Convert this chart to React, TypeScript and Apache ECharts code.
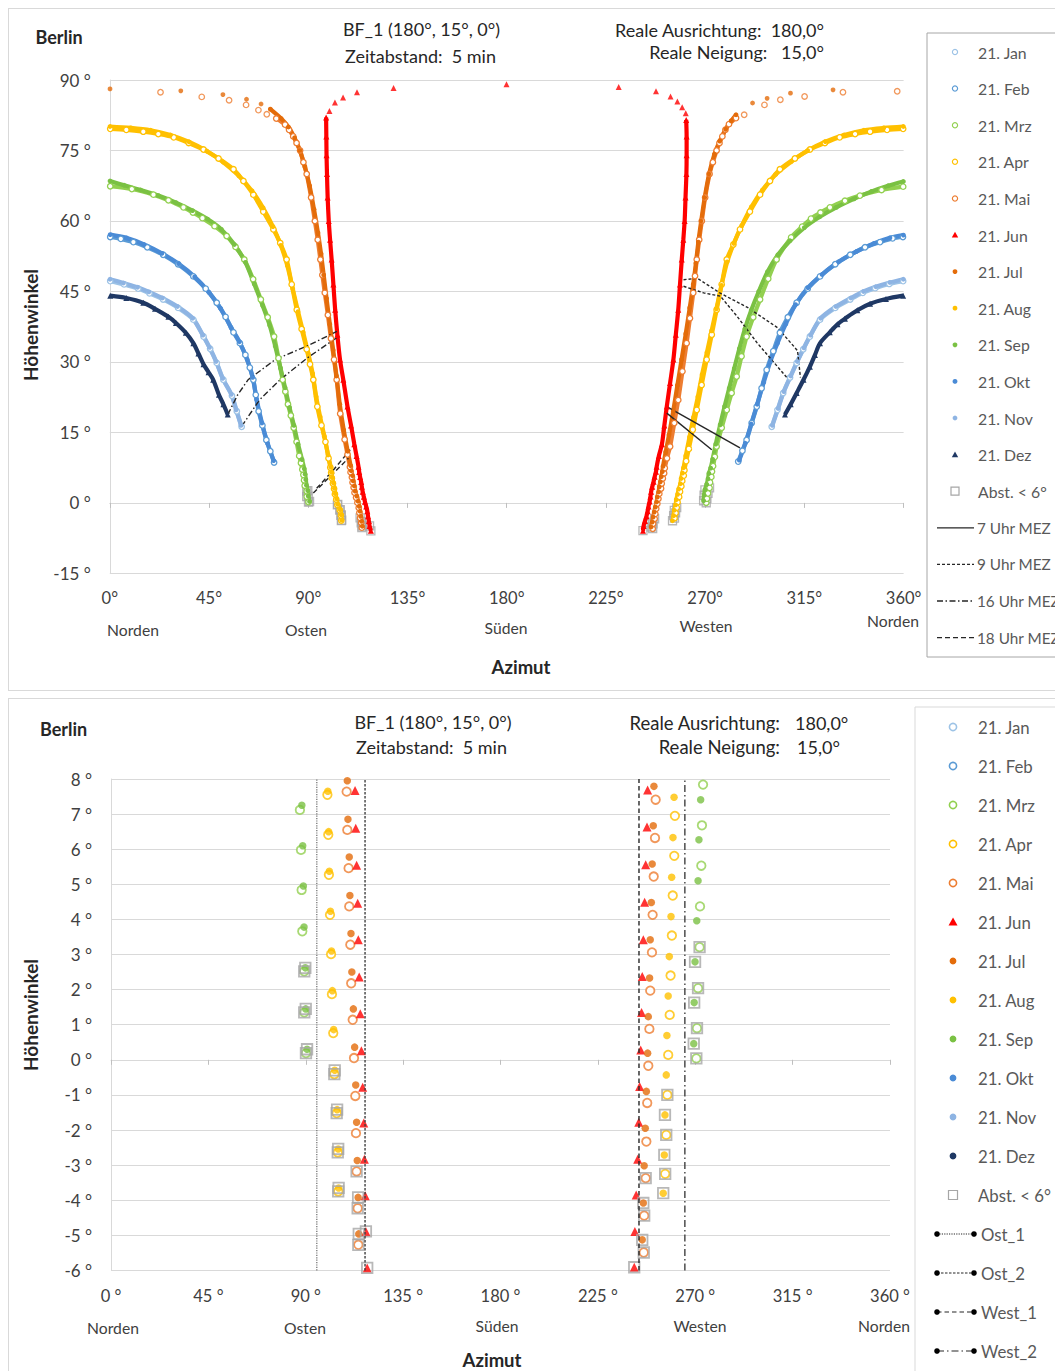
import React, { useEffect, useRef } from 'react';
import * as echarts from 'echarts';

type P = [number, number];

// ---------- Sonnenbahnen (Azimut °, Höhenwinkel °) ----------
const janL: P[] = [[59.8,16.2],[57.6,19.5],[55.4,22.8],[51.5,26.2],[48.5,29.8],[45.5,32.8],[42.5,35.4],[37.9,39],[31,41.5],[24.2,43.3],[18,44.6],[12.9,45.6],[6.5,46.5],[0.2,47.2]];
const janR: P[] = [[300.2,16.2],[302.8,19.8],[305.4,23.4],[308.5,26.7],[311.5,29.8],[314.5,32.7],[317.5,35.4],[322.1,39],[329,41.5],[335.8,43.3],[341.5,44.7],[347.1,45.7],[353.5,46.6],[359.8,47.2]];
const novL: P[] = [[59.5,16.5],[57.3,19.8],[55.1,23.1],[51.2,26.5],[48.2,30.1],[45.2,33.1],[42.2,35.7],[37.6,39.3],[30.7,41.8],[23.9,43.6],[17.7,44.9],[12.6,45.9],[6.2,46.8],[0.1,47.6]];
const novR: P[] = [[300.5,16.5],[303.1,20.1],[305.7,23.7],[308.8,27],[311.8,30.1],[314.8,33],[317.8,35.7],[322.4,39.3],[329.3,41.8],[336.1,43.6],[341.8,45],[347.4,46],[353.8,46.9],[359.9,47.6]];

const dezL: P[] = [[53.5,18.8],[51.5,21],[49.5,23],[46.9,26.2],[44.8,27.8],[42.5,29.5],[40.2,31.8],[37.9,34],[34.5,36.2],[30,38.3],[26.6,39.6],[20.5,41.3],[15.2,42.6],[7.5,43.6],[0.2,44.1]];
const dezR: P[] = [[306.2,18.8],[308.8,21],[311.5,23.4],[314.6,26.2],[317.5,29],[319.8,31.5],[322.1,34],[326.5,36.3],[330,38],[333.4,39.2],[339,41],[344.8,42.4],[352,43.4],[359.8,44.1]];

const febL: P[] = [[74.5,8.6],[72.8,11],[71,13.4],[69.2,16.5],[67.5,19.5],[66.2,23],[65.1,26.2],[63.5,28.8],[61.5,31.5],[59,34],[56.1,36.3],[52.5,39.6],[48.5,42.6],[43.5,45.6],[37.9,48.2],[31,50.8],[24.2,52.8],[17,54.4],[10.7,55.5],[5,56.2],[0.2,56.6]];
const febR: P[] = [[285,8.8],[286.9,11.1],[288.8,13.4],[291.1,17],[293.4,20.5],[295.6,24.4],[297.9,28.3],[300.9,32.3],[303.9,36.2],[307.5,39.5],[311.5,42.6],[316.5,45.6],[322.1,48.2],[329,50.8],[335.8,52.8],[342.5,54.4],[349.3,55.5],[355,56.3],[359.7,56.6]];
const oktL: P[] = [[74.3,9.0],[71.6,12.6],[69,17],[66.6,22],[64.8,26.7],[62.3,30.5],[58.8,34.3],[55,37.3],[50.2,41.4],[45,44.8],[38.5,48.1],[31.2,50.9],[23.6,53.1],[15.5,55],[7.5,56.4],[0.2,57.1]];
const oktR: P[] = [[285.5,9.1],[288.2,12.7],[290.9,16.8],[293.6,21],[296.6,25.7],[299.5,30],[302.8,34],[306.6,38.1],[311,42.2],[316.6,45.8],[323,48.6],[330.5,51.3],[338.6,53.5],[346.5,55.2],[353.8,56.4],[359.9,57.0]];

const mrzL: P[] = [[90.1,0.19],[89.3,1.35],[89.3,2.52],[88.4,3.66],[88.1,4.84],[87.8,5.98],[87.3,7.12],[86.7,8.5],[85.9,10],[84.7,13],[83.4,16],[82.1,18.6],[80.8,21],[79.6,23.7],[78.4,26.2],[76.5,30.8],[74.5,35.4],[71.6,39.5],[68.5,43.3],[65,47.6],[61,51.8],[57,54.5],[53,56.8],[47.5,58.9],[42,60.6],[37.7,61.8],[33.4,62.9],[26.6,64.4],[19.8,65.6],[10,66.8],[0.2,67.4]];
const mrzR: P[] = [[270.5,0.04],[270.8,0.9],[271.3,2.04],[272.0,3.21],[272.2,4.37],[272.8,5.53],[273.1,6.68],[273.6,7.84],[274.4,9.8],[275.2,12],[277.5,16],[279.8,19.8],[282,23.4],[284.3,26.9],[286.5,31.2],[288.8,35.4],[291.8,39.5],[294.9,43.3],[298.6,47.7],[302.4,51.8],[309,56.5],[314,58.8],[318,60.5],[322.3,61.8],[326.6,62.9],[333.4,64.3],[340.2,65.4],[350,66.6],[359.8,67.3]];
const sepL: P[] = [[90.6,0.3],[90.0,1.45],[89.8,2.62],[89.2,3.78],[88.9,4.95],[88.6,6.1],[88.2,7.25],[87.2,9.2],[85.4,12.5],[83.5,16.5],[81.5,20.3],[79.5,24.5],[77.4,28.7],[75,33.4],[72.5,37.8],[69.3,42],[65.5,46.6],[61.5,51.2],[56.5,55],[50.6,58.2],[44.3,60.4],[37.5,62.2],[30,63.9],[22,65.4],[14,66.6],[6.5,67.6],[0.1,68.5]];
const sepR: P[] = [[269.3,0.46],[269.5,1.63],[269.9,2.79],[270.7,3.96],[271.3,5.1],[271.7,6.27],[272.5,7.41],[273.4,9.3],[274.8,12.5],[276.8,16.6],[278.8,20.5],[280.9,24.4],[283.2,28.6],[285.5,32.8],[288,37],[290.9,41],[294.3,45],[298.3,49.2],[303,52.8],[308.5,55.8],[315,58.6],[322,60.9],[329.5,62.9],[337.5,64.7],[345.5,66.3],[353,67.5],[359.9,68.4]];

const aprL: P[] = [[105.0,-3.75],[104.8,-2.64],[104.3,-1.52],[103.2,-0.41],[102.7,0.76],[102.1,1.87],[101.7,3.01],[101.2,4.13],[100.7,5.27],[100.4,6.41],[100.0,7.55],[99.2,9.5],[97.8,13],[96,16.5],[94.1,20.5],[92.3,26.2],[90.8,29.5],[89.3,32.7],[87,37],[84.8,41.1],[82.5,46.5],[80.2,51.8],[77.3,55.3],[74.2,58.2],[69.6,62],[65.1,65.6],[60.6,68.5],[56.1,71],[49.3,73.3],[42.5,75.2],[35.8,76.6],[29,77.8],[22,78.5],[15.2,79],[7.5,79.4],[0.2,79.6]];
const aprR: P[] = [[256.1,-3.25],[256.6,-2.14],[257.1,-1.0],[257.5,0.14],[258.2,1.28],[258.6,2.4],[259.2,3.54],[259.6,4.68],[260.3,5.81],[260.6,6.95],[261.4,8.9],[262.6,11.5],[264.4,15.6],[266.2,19.8],[268.4,25.1],[270.7,30.5],[273,35.8],[275.2,41.1],[277.5,46.5],[279.8,51.8],[282.8,55],[285.8,58.2],[290.3,62],[294.9,65.6],[299.4,68.5],[303.9,71],[310.7,73.3],[317.5,75.2],[324.3,76.6],[331,77.8],[338,78.5],[344.8,79],[352.5,79.4],[359.8,79.6]];
const augL: P[] = [[105.2,-3.65],[105.0,-2.54],[104.5,-1.42],[103.4,-0.3],[102.9,0.86],[102.3,1.97],[101.9,3.1],[101.4,4.23],[100.9,5.37],[100.6,6.5],[100.2,7.65],[99,10.2],[97.3,14.2],[95.4,18.3],[93.6,22.6],[92,27.5],[90,31.8],[87.7,36.3],[85.4,40.7],[83,45.5],[80.5,50.5],[77.6,54.8],[74,58.8],[69.5,62.8],[64.5,66.4],[58.5,69.6],[51.5,72.5],[44,74.9],[36,76.8],[27.5,78.3],[18.5,79.3],[9.5,79.8],[0.1,80.1]];
const augR: P[] = [[255.2,-3.8],[255.7,-2.71],[256.0,-1.57],[256.6,-0.43],[256.9,0.69],[257.5,1.82],[258.0,2.94],[258.8,4.08],[259.1,5.2],[259.7,6.33],[260.2,7.48],[261.2,10],[262.9,14],[264.7,18.2],[266.7,22.6],[268.6,27.3],[270.8,32],[272.9,36.6],[275.1,41.3],[277.4,46.3],[280,51.3],[283,55.2],[286.6,59],[291,63],[296,66.6],[302,69.9],[309,72.6],[316.5,75],[324.5,76.9],[333,78.3],[342,79.3],[351,79.8],[359.9,80.1]];

const maiL: P[] = [[114.3,-5.27],[114.0,-4.23],[113.5,-3.18],[113.2,-2.09],[112.9,-1.03],[112.3,0.05],[111.7,1.14],[111.0,2.18],[110.6,3.28],[110.1,4.37],[109.8,5.46],[109.2,6.55],[108.9,7.64],[107.8,10.3],[106.5,13.5],[104.5,19],[102.9,26.2],[101.7,30.5],[100.3,35],[98.9,40],[97.5,44.7],[96.4,48.5],[95.5,51.8],[94.3,56],[93,60],[91.3,65],[89.3,70],[87.8,72.5],[86.3,75],[84.7,76.6],[83.2,78],[81.3,79.4],[79.5,80.5],[75.5,81.8]];
const maiTopL: P[] = [[71.2,82.7],[67.4,83.6],[61.8,84.7],[54.1,85.7],[41.7,86.4],[23,87.4]];
const maiR: P[] = [[246.2,-5.49],[246.4,-4.44],[247.1,-3.37],[247.4,-2.33],[247.8,-1.23],[248.3,-0.17],[248.8,0.88],[249.2,1.97],[250.0,3.06],[250.3,4.13],[250.8,5.22],[251.4,6.32],[251.7,7.41],[252.7,9.5],[254.1,12],[256,17],[257.8,21.9],[259.7,28],[261.6,34],[263.1,39.3],[264.6,44.7],[265.4,48.3],[266.2,51.8],[267.3,56],[268.5,60],[270,65],[272,70],[273.5,72.5],[275.2,75],[276.5,76.6],[277.8,78],[279.2,79.4],[280.8,80.6],[284,81.9]];
const maiTopR: P[] = [[287.7,82.6],[296.9,84.7],[304.1,85.8],[315.1,86.5],[332.5,87.4],[357.1,87.6]];
const julL: P[] = [[114.5,-4.96],[114.2,-3.92],[113.8,-2.87],[113.5,-1.78],[113.1,-0.72],[112.6,0.36],[112.0,1.45],[111.3,2.5],[110.9,3.6],[110.4,4.68],[110.1,5.78],[109.5,6.85],[109.2,7.95],[107.9,11],[106.1,15.5],[104.3,21],[102.8,27],[101.3,32.5],[99.8,38],[98.3,43.5],[97,48.5],[95.8,53],[94.4,57.5],[92.6,62.5],[90.6,67.5],[88.5,71.5],[86.2,75],[83.8,77.7],[81,80],[77.7,81.8],[72.8,83.8]];
const julTopL: P[] = [[68.6,84.9],[62,85.9],[51.3,86.9],[32.2,87.7],[0.1,88.1]];
const julR: P[] = [[245.5,-5.13],[246.0,-4.08],[246.4,-3.02],[246.9,-1.95],[247.4,-0.9],[248.0,0.19],[248.3,1.23],[248.9,2.33],[249.2,3.42],[249.7,4.48],[250.1,5.58],[250.6,6.67],[250.9,7.79],[252.1,10.8],[253.6,14.5],[255.5,19.5],[257.4,25],[259.3,30.5],[261.2,36],[263,41.5],[264.6,46.5],[265.8,51],[266.9,55.5],[268.2,60],[269.8,65],[271.8,70],[274.2,74.2],[276.6,77],[279.3,79.5],[281.8,81.3],[284,82.6]];
const julTopR: P[] = [[291.5,85.1],[298.1,86.1],[308.7,87.2],[328,87.9]];

const junL: P[] = [[118.4,-5.93],[117.8,-4.89],[117.5,-3.87],[117.1,-2.83],[116.8,-1.8],[116.3,-0.78],[115.7,0.26],[115.2,1.31],[114.7,2.36],[114.3,3.42],[114.0,4.46],[113.5,5.54],[113.1,6.6],[112.8,7.67],[111.9,10],[110.9,12.5],[109.4,16.5],[107.8,20.5],[105.9,26.2],[104.4,30.5],[103.2,35.8],[102.2,41.1],[101.4,46.5],[100.6,51.8],[99.9,56],[99.3,60],[98.8,65],[98.5,70],[98.3,74],[98.2,78],[98.1,82]];
const junTopL: P[] = [[99.6,83.4],[102.1,85.2],[105.8,86.3],[112.1,87.4],[128.7,88.3],[179.9,89.1]];
const junR: P[] = [[241.8,-5.91],[242.1,-4.89],[242.7,-3.85],[243.4,-2.83],[243.9,-1.78],[244.3,-0.76],[244.8,0.28],[245.2,1.35],[245.5,2.37],[246.0,3.42],[246.6,4.49],[247.1,5.56],[247.7,6.63],[248.0,7.69],[249,10],[250.4,12.5],[251.5,16.5],[252.6,20.5],[254.1,25.5],[255.6,30.5],[256.7,35.8],[257.8,41.1],[258.6,46.5],[259.4,51.8],[260.1,56],[260.7,60],[261.1,65],[261.5,70],[261.6,74],[261.6,78],[261.4,81.5]];
const junTopR: P[] = [[261.2,82.9],[259.6,84.2],[257.4,85.4],[254.3,86.5],[247.7,87.6],[230.8,88.5]];

// Punkte mit Abstand < 6°
const abstL: P[] = [[89.3,2.52],[89.8,2.62],[89.3,1.35],[90.0,1.45],[90.1,0.19],[90.6,0.3],[103.2,-0.41],[103.4,-0.3],[104.3,-1.52],[104.5,-1.42],[104.8,-2.64],[105.0,-2.54],[105.0,-3.75],[105.2,-3.65],[113.5,-3.18],[114.2,-3.92],[114.0,-4.23],[114.5,-4.96],[114.3,-5.27],[117.8,-4.89],[118.4,-5.93]];
const abstR: P[] = [[269.9,2.79],[269.5,1.63],[269.3,0.46],[272.0,3.21],[271.3,2.04],[270.8,0.9],[270.5,0.04],[257.1,-1.0],[256.6,-2.14],[256.1,-3.25],[256.0,-1.57],[255.7,-2.71],[255.2,-3.8],[247.1,-3.37],[246.0,-4.08],[246.4,-4.44],[245.5,-5.13],[246.2,-5.49],[241.8,-5.91]];

// Uhrzeit-Linien (oberes Diagramm)
const uhr7a: P[] = [[252.6,20.5],[285.8,11.7]];
const uhr7b: P[] = [[252.6,19.1],[273,11.3]];
const uhr9a: P[] = [[260.2,47.5],[266.5,47.8],[277,44.6],[289.2,41.6],[302.8,37.3],[311.9,32.4],[313.2,26.7]];
const uhr9b: P[] = [[260.2,46.1],[269.3,44.7],[276.9,44],[284.5,39.7],[293.5,34.1],[307.2,26.6]];
const uhr16a: P[] = [[59.8,16.3],[68,22],[77.2,26.2],[90,31],[104,35.5]];
const uhr16b: P[] = [[53.5,18.8],[58,23],[62.7,26.2],[75,30.5],[90,33.5],[103,36.5]];
const uhr18a: P[] = [[92.3,2.1],[101.4,6.3],[108.2,9.5]];
const uhr18b: P[] = [[93.8,3.1],[101.4,7],[109,11.3]];

// Grenzlinien (unteres Diagramm)
const ost1: P[] = [[95.1,-6],[95.1,8]];
const ost2: P[] = [[117.4,-6],[117.4,8]];
const west1: P[] = [[244.0,-6],[244.0,8]];
const west2: P[] = [[265.2,-6],[265.2,8]];

const monthNames = ['21. Jan','21. Feb','21. Mrz','21. Apr','21. Mai','21. Jun','21. Jul','21. Aug','21. Sep','21. Okt','21. Nov','21. Dez'];
const compassNames = ['Norden','Osten','Süden','Westen','Norden'];
const topLineNames = ['7 Uhr MEZ','9 Uhr MEZ','16 Uhr MEZ','18 Uhr MEZ'];
const botLineNames = ['Ost_1','Ost_2','West_1','West_2'];

// ---------- Stil ----------
const FONT = 'Lato, "Liberation Sans", Arial, sans-serif';
type Kind = 'hollow' | 'filled' | 'tri';
const monthColors = ['#9DC3E6','#5B9BD5','#92D050','#FFC000','#ED7D31','#FF0000','#E46C0A','#FFC000','#7AC143','#4A8BD6','#8EB4E3','#1F3864'];
const monthKinds: Kind[] = ['hollow','hollow','hollow','hollow','hollow','tri','filled','filled','filled','filled','filled','tri'];
const monthBranches: P[][][] = [[janL,janR],[febL,febR],[mrzL,mrzR],[aprL,aprR],[maiL,maiR],[junL,junR],[julL,julR],[augL,augR],[sepL,sepR],[oktL,oktR],[novL,novR],[dezL,dezR]];
const monthSparse: P[][][] = [[],[],[],[],[maiTopL,maiTopR],[junTopL,junTopR],[julTopL,julTopR],[],[],[],[],[]];

function sym(kind: Kind, color: string, big: boolean) {
  if (kind === 'hollow') return { symbol: 'circle', symbolSize: big ? 8.5 : 5.5, itemStyle: { color: '#fff', borderColor: color, borderWidth: big ? 1.8 : 1.3 } };
  if (kind === 'filled') return { symbol: 'circle', symbolSize: big ? 7.5 : 4.8, itemStyle: { color } };
  return { symbol: 'triangle', symbolSize: big ? 9 : 6, itemStyle: { color } };
}

function T(x: number, y: number, text: string, size: number, o: any = {}) {
  return {
    type: 'text', x, y, rotation: o.rot || 0, z: 50, silent: true,
    style: {
      text, fill: o.color || '#262626', fontSize: size, fontWeight: o.bold ? 'bold' : 'normal', fontFamily: FONT,
      textAlign: o.align || 'left', textVerticalAlign: 'middle', align: o.align || 'left', verticalAlign: 'middle',
    },
  };
}

function legendSymbol(kind: Kind | 'square', color: string, x: number, y: number, big: boolean) {
  if (kind === 'hollow') return { type: 'circle', z: 51, shape: { cx: x, cy: y, r: big ? 3.6 : 2.6 }, style: { fill: '#fff', stroke: color, lineWidth: big ? 1.6 : 1.2 } };
  if (kind === 'filled') return { type: 'circle', z: 51, shape: { cx: x, cy: y, r: big ? 3.4 : 2.4 }, style: { fill: color } };
  if (kind === 'tri') { const r = big ? 4.5 : 3.2; return { type: 'polygon', z: 51, shape: { points: [[x, y - r], [x + r, y + r * 0.8], [x - r, y + r * 0.8]] }, style: { fill: color } }; }
  const s = big ? 9 : 8;
  return { type: 'rect', z: 51, shape: { x: x - s / 2, y: y - s / 2, width: s, height: s }, style: { fill: 'none', stroke: '#A6A6A6', lineWidth: 1.2 } };
}

const topDash: any[] = [null, [3, 2], [6, 2.5, 1.5, 2.5], [5, 3]];
const botDash: any[] = [[1.2, 1.2], [2.5, 1.5], [4.5, 3], [7, 3, 1.5, 3]];
const botLineColor = ['#7F7F7F', '#404040', '#262626', '#404040'];

function buildTop() {
  const series: any[] = [];
  monthNames.forEach((name, i) => {
    const s = sym(monthKinds[i], monthColors[i], false);
    monthBranches[i].forEach((b) => series.push({ type: 'line', name, data: b, smooth: 0.3, silent: true, ...s, lineStyle: { color: monthColors[i], width: 4.2 } }));
    monthSparse[i].forEach((b) => series.push({ type: 'scatter', name, data: b, silent: true, ...s }));
  });
  [abstL, abstR].forEach((b) => series.push({ type: 'scatter', name: 'Abst. < 6°', data: b, silent: true, symbol: 'rect', symbolSize: 8, itemStyle: { color: 'rgba(255,255,255,0)', borderColor: '#A6A6A6', borderWidth: 1.3 } }));
  const lines = [[uhr7a, uhr7b], [uhr9a, uhr9b], [uhr16a, uhr16b], [uhr18a, uhr18b]];
  lines.forEach((pair, k) => pair.forEach((b) => series.push({ type: 'line', name: topLineNames[k], data: b, symbol: 'none', silent: true, lineStyle: { color: '#262626', width: 1.4, type: topDash[k] || 'solid' } })));

  const g: any[] = [
    T(27.5, 29, 'Berlin', 18, { bold: true }),
    T(413.5, 20.7, 'BF_1 (180°, 15°, 0°)', 18, { align: 'center' }),
    T(412.5, 47.7, 'Zeitabstand:  5 min', 18, { align: 'center' }),
    T(816, 22.4, 'Reale Ausrichtung:  180,0°', 18, { align: 'right' }),
    T(816, 44.4, 'Reale Neigung:   15,0°', 18, { align: 'right' }),
    T(22, 317, 'Höhenwinkel', 19, { bold: true, align: 'center', rot: Math.PI / 2 }),
    T(513, 659, 'Azimut', 18.5, { bold: true, align: 'center' }),
  ];
  const compassPos = [[125, 622], [298, 622], [498, 620], [698, 618], [885, 613]];
  compassNames.forEach((n, i) => g.push(T(compassPos[i][0], compassPos[i][1], n, 15.7, { align: 'center', color: '#404040' })));
  g.push({ type: 'rect', z: 49, shape: { x: 919, y: 25, width: 200, height: 624 }, style: { fill: '#fff', stroke: '#A6A6A6', lineWidth: 1 } });
  const rowY = (i: number) => 44 + 36.6 * i;
  monthNames.forEach((n, i) => {
    g.push(legendSymbol(monthKinds[i], monthColors[i], 947, rowY(i), false));
    g.push(T(970, rowY(i), n, 15.8, { color: '#595959' }));
  });
  g.push(legendSymbol('square', '', 947, rowY(12), false));
  g.push(T(970, rowY(12), 'Abst. < 6°', 15.8, { color: '#595959' }));
  topLineNames.forEach((n, k) => {
    const y = rowY(13 + k);
    g.push({ type: 'line', z: 51, shape: { x1: 929, y1: y, x2: 966, y2: y }, style: { stroke: '#262626', lineWidth: 1.3, lineDash: topDash[k] || null } });
    g.push(T(969, y, n, 15.3, { color: '#595959' }));
  });

  return {
    animation: false,
    grid: { left: 101.8, top: 72, width: 793.8, height: 493.4 },
    xAxis: [
      { type: 'value', min: 0, max: 360, interval: 45, position: 'bottom', axisLine: { show: false, onZero: false }, axisTick: { show: false }, splitLine: { show: false },
        axisLabel: { formatter: (v: number) => v + '°', fontSize: 16.5, color: '#404040', fontFamily: FONT, margin: 16 } },
      { type: 'value', min: 0, max: 360, interval: 45, position: 'bottom', axisLine: { show: true, onZero: true, lineStyle: { color: '#D9D9D9' } },
        axisTick: { show: true, length: 5, lineStyle: { color: '#BFBFBF' } }, axisLabel: { show: false }, splitLine: { show: false } },
    ],
    yAxis: { type: 'value', min: -15, max: 90, interval: 15, axisLine: { show: true, onZero: false, lineStyle: { color: '#D9D9D9' } }, axisTick: { show: false },
      splitLine: { show: true, lineStyle: { color: '#D9D9D9' } },
      axisLabel: { formatter: (v: number) => v + ' °', fontSize: 17, color: '#404040', fontFamily: FONT, margin: 19 } },
    series,
    graphic: g,
  };
}

function buildBottom() {
  const series: any[] = [];
  monthNames.forEach((name, i) => {
    const kind = i === 11 ? 'filled' : monthKinds[i];
    const s = sym(kind as Kind, monthColors[i], true);
    series.push({ type: 'scatter', name, data: ([] as P[]).concat(...monthBranches[i]), silent: true, ...s });
  });
  series.push({ type: 'scatter', name: 'Abst. < 6°', data: ([] as P[]).concat(abstL, abstR), silent: true, symbol: 'rect', symbolSize: 10.5, itemStyle: { color: 'rgba(255,255,255,0)', borderColor: '#A6A6A6', borderWidth: 1.8 } });
  [ost1, ost2, west1, west2].forEach((b, k) => series.push({ type: 'line', name: botLineNames[k], data: b, symbol: 'none', silent: true, lineStyle: { color: botLineColor[k], width: 1.4, type: botDash[k] } }));

  const g: any[] = [
    T(32, 31, 'Berlin', 18, { bold: true }),
    T(425, 24, 'BF_1 (180°, 15°, 0°)', 18, { align: 'center' }),
    T(423.5, 49.4, 'Zeitabstand:  5 min', 18, { align: 'center' }),
    T(772, 25, 'Reale Ausrichtung:', 18.5, { align: 'right' }),
    T(787, 25, '180,0°', 18),
    T(772, 49, 'Reale Neigung:', 18.5, { align: 'right' }),
    T(789, 49, '15,0°', 18),
    T(22, 317, 'Höhenwinkel', 19, { bold: true, align: 'center', rot: Math.PI / 2 }),
    T(484, 662, 'Azimut', 18.5, { bold: true, align: 'center' }),
  ];
  const compassPos = [[105, 630], [297, 630], [489, 628], [692, 628], [876, 628]];
  compassNames.forEach((n, i) => g.push(T(compassPos[i][0], compassPos[i][1], n, 15.7, { align: 'center', color: '#404040' })));
  g.push({ type: 'rect', z: 49, shape: { x: 907, y: 9, width: 200, height: 700 }, style: { fill: '#fff', stroke: '#D9D9D9', lineWidth: 1 } });
  const rowY = (i: number) => 29 + 39 * i;
  monthNames.forEach((n, i) => {
    const kind = i === 11 ? 'filled' : monthKinds[i];
    g.push(legendSymbol(kind as Kind, monthColors[i], 945, rowY(i), true));
    g.push(T(970, rowY(i), n, 16.8, { color: '#595959' }));
  });
  g.push(legendSymbol('square', '', 945, rowY(12), true));
  g.push(T(970, rowY(12), 'Abst. < 6°', 16.8, { color: '#595959' }));
  botLineNames.forEach((n, k) => {
    const y = rowY(13 + k);
    g.push({ type: 'line', z: 51, shape: { x1: 929, y1: y, x2: 966, y2: y }, style: { stroke: '#262626', lineWidth: 1.2, lineDash: botDash[k] } });
    g.push({ type: 'circle', z: 52, shape: { cx: 929, cy: y, r: 2.8 }, style: { fill: '#000' } });
    g.push({ type: 'circle', z: 52, shape: { cx: 966, cy: y, r: 2.8 }, style: { fill: '#000' } });
    g.push(T(973, y, n, 16.8, { color: '#595959' }));
  });

  return {
    animation: false,
    grid: { left: 103, top: 81, width: 779, height: 491.4 },
    xAxis: [
      { type: 'value', min: 0, max: 360, interval: 45, position: 'bottom', axisLine: { show: false, onZero: false }, axisTick: { show: false }, splitLine: { show: false },
        axisLabel: { formatter: (v: number) => v + ' °', fontSize: 16.5, color: '#404040', fontFamily: FONT, margin: 17 } },
      { type: 'value', min: 0, max: 360, interval: 45, position: 'bottom', axisLine: { show: true, onZero: true, lineStyle: { color: '#D9D9D9' } },
        axisTick: { show: true, length: 5, lineStyle: { color: '#BFBFBF' } }, axisLabel: { show: false }, splitLine: { show: false } },
    ],
    yAxis: { type: 'value', min: -6, max: 8, interval: 1, axisLine: { show: true, onZero: false, lineStyle: { color: '#D9D9D9' } }, axisTick: { show: false },
      splitLine: { show: true, lineStyle: { color: '#D9D9D9' } },
      axisLabel: { formatter: (v: number) => v + ' °', fontSize: 17, color: '#404040', fontFamily: FONT, margin: 19 } },
    series,
    graphic: g,
  };
}

export default function App() {
  const topRef = useRef<HTMLDivElement>(null);
  const botRef = useRef<HTMLDivElement>(null);
  useEffect(() => {
    document.documentElement.style.overflow = 'hidden';
    document.body.style.margin = '0';
    document.body.style.overflow = 'visible';
    const c1 = echarts.init(topRef.current as HTMLDivElement, undefined, { renderer: 'svg' });
    c1.setOption(buildTop() as any);
    const c2 = echarts.init(botRef.current as HTMLDivElement, undefined, { renderer: 'svg' });
    c2.setOption(buildBottom() as any);
    return () => { c1.dispose(); c2.dispose(); };
  }, []);
  return (
    <div style={{ position: 'absolute', left: 8, top: 8, width: 1100, height: 1380, background: '#fff' }}>
      <div ref={topRef} style={{ position: 'absolute', left: 0, top: 0, width: 1100, height: 683 }} />
      <div style={{ position: 'absolute', left: 0, top: 0, width: 1100, height: 683, border: '1px solid #D9D9D9', boxSizing: 'border-box', pointerEvents: 'none' }} />
      <div ref={botRef} style={{ position: 'absolute', left: 0, top: 690, width: 1100, height: 690 }} />
      <div style={{ position: 'absolute', left: 0, top: 690, width: 1100, height: 690, border: '1px solid #D9D9D9', boxSizing: 'border-box', pointerEvents: 'none' }} />
    </div>
  );
}
